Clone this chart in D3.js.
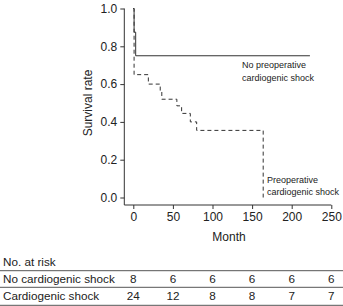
<!DOCTYPE html>
<html>
<head>
<meta charset="utf-8">
<script src="https://cdn.jsdelivr.net/npm/d3@7"></script>
<style>
  body { margin: 0; background: #fff; }
  svg { display: block; font-family: "Liberation Sans", Arial, sans-serif; }
</style>
</head>
<body>
<svg width="343" height="306"></svg>
<script>
// survival curves: [month, survival rate]
var noShock = [[0, 1.0], [1, 0.875], [3, 0.75], [223, 0.75]];
var shock = [[0, 1.0], [1, 0.65], [19, 0.60], [34, 0.565], [36, 0.52], [55, 0.485],
             [61, 0.445], [72, 0.40], [80, 0.355], [164, 0.0]];

var xTicks = [0, 50, 100, 150, 200, 250];
var yTicks = [0.0, 0.2, 0.4, 0.6, 0.8, 1.0];

var riskLabels = ["No cardiogenic shock", "Cardiogenic shock"];
var riskNoShock = [8, 6, 6, 6, 6, 6];
var riskShock = [24, 12, 8, 8, 7, 7];

var svg = d3.select("svg");
var ink = "#222";

var x = d3.scaleLinear().domain([0, 250]).range([133.3, 331.3]);
var y = d3.scaleLinear().domain([0, 1]).range([197.5, 8.5]);
var axisX = 124.3, axisY = 205;

// axis lines (joined corner)
svg.append("path")
  .attr("d", "M" + axisX + "," + y(1) + "V" + axisY + "H" + x(250))
  .attr("fill", "none").attr("stroke", "#333").attr("stroke-width", 1);

// y axis
var yAxis = svg.append("g")
  .attr("transform", "translate(" + axisX + ",0)")
  .call(d3.axisLeft(y).tickValues(yTicks).tickFormat(d3.format(".1f")).tickSize(4).tickPadding(3));
yAxis.select(".domain").remove();

// x axis
var xAxis = svg.append("g")
  .attr("transform", "translate(0," + axisY + ")")
  .call(d3.axisBottom(x).tickValues(xTicks).tickSize(4).tickPadding(3));
xAxis.select(".domain").remove();

svg.selectAll(".tick line").attr("stroke", "#333");
svg.selectAll(".tick text").attr("fill", ink).style("font-size", "12px")
  .style("font-family", "Liberation Sans, Arial, sans-serif");

// axis titles
svg.append("text")
  .attr("transform", "translate(92," + ((y(0) + y(1)) / 2) + ") rotate(-90)")
  .attr("text-anchor", "middle").attr("fill", ink).style("font-size", "12px")
  .text("Survival rate");
svg.append("text")
  .attr("x", 229).attr("y", 241)
  .attr("text-anchor", "middle").attr("fill", ink).style("font-size", "12px")
  .text("Month");

// curves
var line = d3.line()
  .x(function(d) { return x(d[0]); })
  .y(function(d) { return y(d[1]); })
  .curve(d3.curveStepAfter);

svg.append("path").datum(noShock)
  .attr("d", line).attr("fill", "none")
  .attr("stroke", "#333").attr("stroke-width", 1);

svg.append("path").datum(shock)
  .attr("d", line).attr("fill", "none")
  .attr("stroke", "#333").attr("stroke-width", 1)
  .attr("stroke-dasharray", "4,3");

// curve labels
var lab1 = svg.append("text").attr("fill", ink).style("font-size", "9px");
lab1.append("tspan").attr("x", 242).attr("y", 68).text("No preoperative");
lab1.append("tspan").attr("x", 242).attr("y", 81).text("cardiogenic shock");

var lab2 = svg.append("text").attr("fill", ink).style("font-size", "9px");
lab2.append("tspan").attr("x", 267).attr("y", 183).text("Preoperative");
lab2.append("tspan").attr("x", 267).attr("y", 195).text("cardiogenic shock");

// number at risk table
svg.append("text").attr("x", 3).attr("y", 266)
  .attr("fill", ink).style("font-size", "11.7px").text("No. at risk");

[270.7, 287.3, 305.3].forEach(function(ly) {
  svg.append("line").attr("x1", 0).attr("x2", 343)
    .attr("y1", ly).attr("y2", ly)
    .attr("stroke", "#555").attr("stroke-width", 1);
});

var rows = [riskNoShock, riskShock];
var rowY = [283, 300];
rows.forEach(function(vals, i) {
  svg.append("text").attr("x", 3).attr("y", rowY[i])
    .attr("fill", ink).style("font-size", "11.7px").text(riskLabels[i]);
  svg.selectAll(null).data(vals).enter().append("text")
    .attr("x", function(d, j) { return x(xTicks[j]); })
    .attr("y", rowY[i])
    .attr("text-anchor", "middle")
    .attr("fill", ink).style("font-size", "11.7px")
    .text(function(d) { return d; });
});
</script>
</body>
</html>
